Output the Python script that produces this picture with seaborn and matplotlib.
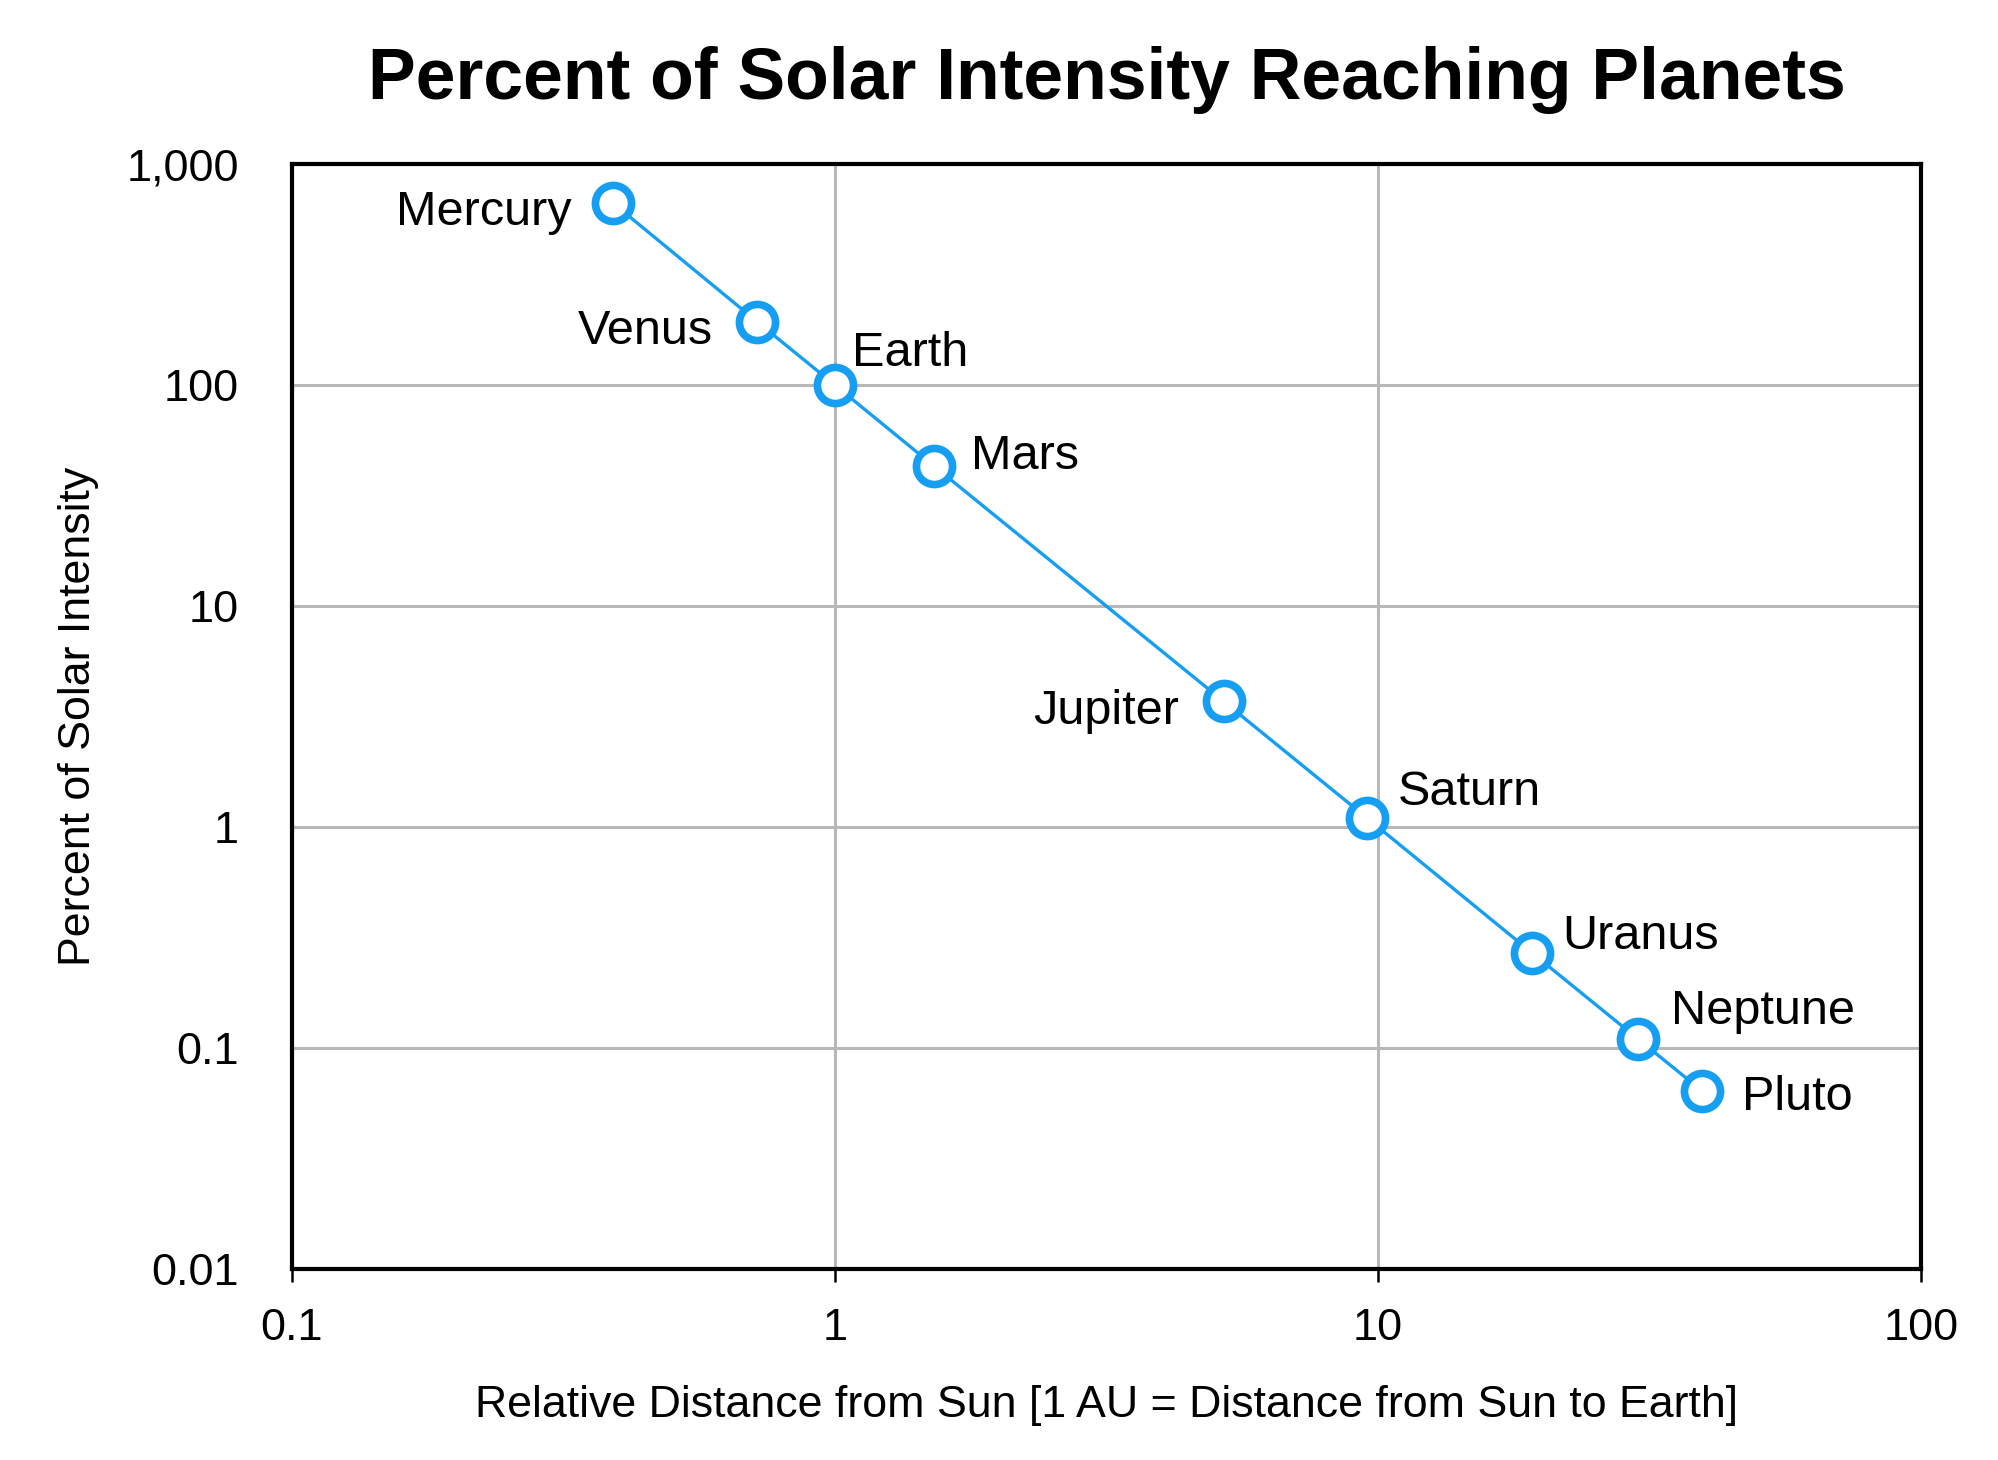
import pandas as pd
import matplotlib
matplotlib.use('Agg')
import matplotlib.pyplot as plt
import seaborn as sns

# Planet data (distance in AU, percent of solar intensity relative to Earth)
planets = ['Mercury', 'Venus', 'Earth', 'Mars', 'Jupiter', 'Saturn', 'Uranus', 'Neptune', 'Pluto']
distance = [0.39, 0.72, 1.0, 1.52, 5.2, 9.54, 19.2, 30.1, 39.5]
intensity = [667, 193, 100, 43.1, 3.7, 1.1, 0.27, 0.11, 0.064]

x_ticks = [0.1, 1, 10, 100]
x_tick_labels = ['0.1', '1', '10', '100']
y_ticks = [0.01, 0.1, 1, 10, 100, 1000]
y_tick_labels = ['0.01', '0.1', '1', '10', '100', '1,000']

# label offsets in points (dx, dy, horizontal alignment)
label_offsets = {
    'Mercury': (-30, -7, 'right'),
    'Venus': (-32, -7, 'right'),
    'Earth': (12, 23, 'left'),
    'Mars': (27, 7, 'left'),
    'Jupiter': (-32, -7, 'right'),
    'Saturn': (22, 18, 'left'),
    'Uranus': (22, 12, 'left'),
    'Neptune': (24, 20, 'left'),
    'Pluto': (29, -5, 'left'),
}

df = pd.DataFrame({'Planet': planets, 'Distance': distance, 'Intensity': intensity})

sns.set_style('white')
plt.rcParams['font.family'] = ['Liberation Sans', 'DejaVu Sans']
plt.rcParams['text.color'] = 'black'
plt.rcParams['axes.labelcolor'] = 'black'
plt.rcParams['xtick.color'] = 'black'
plt.rcParams['ytick.color'] = 'black'

blue = '#169ef2'

fig = plt.figure(figsize=(19.98, 14.6), dpi=100)
ax = fig.add_axes([0.1461, 0.1308, 0.8154, 0.7568])

sns.lineplot(x='Distance', y='Intensity', data=df, ax=ax, color=blue, linewidth=2.4,
             marker='o', markersize=26, markerfacecolor='white',
             markeredgecolor=blue, markeredgewidth=5.5, zorder=3)

ax.set_xscale('log')
ax.set_yscale('log')
ax.set_xlim(0.1, 100)
ax.set_ylim(0.01, 1000)

ax.set_xticks(x_ticks)
ax.set_xticklabels(x_tick_labels)
ax.set_yticks(y_ticks)
ax.set_yticklabels(y_tick_labels)
ax.minorticks_off()

ax.grid(True, color='#b8b8b8', linewidth=2.2)
ax.set_axisbelow(True)
for spine in ax.spines.values():
    spine.set_color('black')
    spine.set_linewidth(3)
    spine.set_visible(True)

ax.tick_params(axis='x', direction='out', length=9, width=1.8, color='black',
               labelsize=32.5, labelcolor='black', pad=19, bottom=True)
ax.tick_params(axis='y', length=0, labelsize=32.5, labelcolor='black', pad=38, left=False)

for name, xv, yv in zip(planets, distance, intensity):
    dx, dy, ha = label_offsets[name]
    ax.annotate(name, (xv, yv), xytext=(dx, dy), textcoords='offset points',
                ha=ha, va='center', fontsize=35, color='black')

ax.set_title('Percent of Solar Intensity Reaching Planets', fontsize=51.5,
             fontweight='bold', color='black', pad=47)
ax.set_xlabel('Relative Distance from Sun [1 AU = Distance from Sun to Earth]',
              fontsize=32.2, color='black', labelpad=26)
ax.set_ylabel('Percent of Solar Intensity', fontsize=32.2, color='black', labelpad=20)

fig.savefig('out.png', dpi=100, facecolor='white')
